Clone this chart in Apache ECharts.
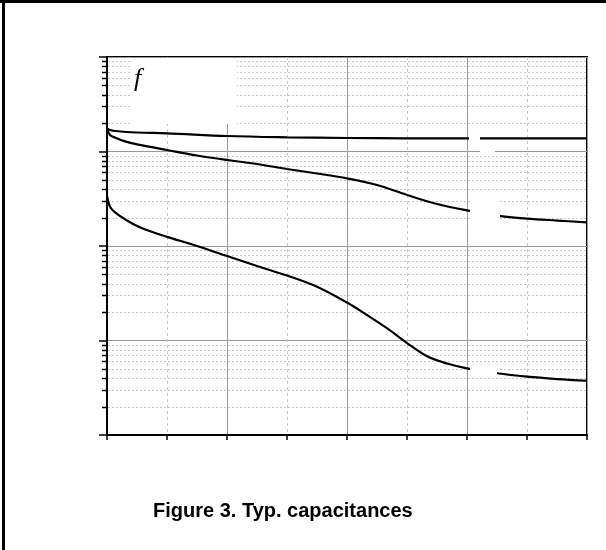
<!DOCTYPE html>
<html>
<head>
<meta charset="utf-8">
<script src="https://cdn.jsdelivr.net/npm/echarts@6/dist/echarts.min.js"></script>
<style>
html,body{margin:0;padding:0;background:#fff;}
#c{width:606px;height:550px;}
</style>
</head>
<body>
<div id="c"></div>
<script>
// Data (x: 0..40, y: capacitance, log scale)
var cissX = [0, 0.25, 0.7, 2.5, 5, 10, 15, 20, 25, 30, 35, 40];
var cissY = [1760, 1690, 1648, 1589, 1559, 1459, 1414, 1390, 1380, 1377, 1374, 1375];

var cossX = [0, 0.25, 0.7, 1.5, 2.5, 5, 7.5, 10, 12.5, 15, 17.5, 20, 22.5, 25, 27.5, 30, 32.5, 35, 37.5, 40];
var cossY = [1750, 1495, 1400, 1280, 1190, 1037, 907, 813, 738, 653, 585, 520, 442, 347, 278, 238, 210, 195, 186, 178];

var crssX = [0, 0.25, 0.7, 1.67, 2.5, 3.6, 5, 7.5, 10, 12.5, 15, 17.5, 20, 21.67, 23.33, 25, 26.67, 28.33, 30, 32.5, 35, 37.5, 40];
var crssY = [342, 261, 225, 186, 163, 143, 125, 100, 78.4, 61.4, 48.7, 37.1, 25.2, 18.6, 13.5, 9.4, 6.8, 5.71, 5.08, 4.5, 4.14, 3.91, 3.75];

var yDecades = [1, 10, 100, 1000];
var minorMult = [2, 3, 4, 5, 6, 7, 8, 9];
var captionText = 'Figure 3. Typ. capacitances';
var labelText = 'f';

function pairs(xs, ys) { return xs.map(function (x, i) { return [x, ys[i]]; }); }
var minorVals = [];
yDecades.forEach(function (d) { minorMult.forEach(function (m) { minorVals.push([m * d]); }); });

var chart = echarts.init(document.getElementById('c'), null, {renderer: 'canvas'});
var lineStyle = {color: '#000', width: 2.2};
function curve(xs, ys) {
  return {type: 'line', data: pairs(xs, ys), smooth: 0.35, showSymbol: false, lineStyle: lineStyle, z: 3};
}
chart.setOption({
  animation: false,
  backgroundColor: '#fff',
  grid: {left: 107, top: 57, right: 19, bottom: 115, show: true, borderColor: '#000', borderWidth: 2, backgroundColor: 'transparent'},
  xAxis: {
    type: 'value', min: 0, max: 40, interval: 10,
    axisLine: {show: true, lineStyle: {color: '#000', width: 2}},
    axisTick: {show: true, length: 5, lineStyle: {color: '#000', width: 1.5}},
    minorTick: {show: true, splitNumber: 2, length: 5, lineStyle: {color: '#000', width: 1.5}},
    axisLabel: {show: false},
    splitLine: {show: true, lineStyle: {color: '#999', width: 1}},
    minorSplitLine: {show: true, lineStyle: {color: '#c8c8c8', width: 1, type: [3, 3]}}
  },
  yAxis: {
    type: 'log', logBase: 10, min: 1, max: 10000, splitNumber: 4,
    axisLine: {show: true, lineStyle: {color: '#000', width: 2}},
    axisTick: {show: true, length: 8, lineStyle: {color: '#000', width: 1.5}},
    axisLabel: {show: false},
    splitLine: {show: true, lineStyle: {color: '#999', width: 1}}
  },
  series: [
    {
      type: 'custom', z: 1, silent: true, clip: false,
      data: minorVals,
      renderItem: function (params, api) {
        var v = api.value(0);
        var p0 = api.coord([0, v]);
        var p1 = api.coord([40, v]);
        var y = Math.round(p0[1]) + 0.5;
        return {
          type: 'group',
          children: [
            {type: 'line', shape: {x1: p0[0] + 1, y1: y, x2: p1[0] - 1, y2: y},
             style: {stroke: '#c8c8c8', lineWidth: 1, lineDash: [2, 2]}},
            {type: 'line', shape: {x1: p0[0] - 5, y1: y, x2: p0[0], y2: y},
             style: {stroke: '#000', lineWidth: 1.5}}
          ]
        };
      }
    },
    curve(cissX, cissY),
    curve(cossX, cossY),
    curve(crssX, crssY)
  ],
  graphic: [
    // outer frame (top and left)
    {type: 'line', shape: {x1: 0, y1: 1.5, x2: 606, y2: 1.5}, style: {stroke: '#000', lineWidth: 3}, z: 100},
    {type: 'line', shape: {x1: 3.5, y1: 0, x2: 3.5, y2: 550}, style: {stroke: '#000', lineWidth: 3}, z: 100},
    // label background masks
    {type: 'rect', shape: {x: 132, y: 58, width: 105, height: 66}, style: {fill: '#fff'}, z: 50},
    {type: 'rect', shape: {x: 469, y: 131, width: 11, height: 14}, style: {fill: '#fff'}, z: 50},
    {type: 'rect', shape: {x: 480, y: 148, width: 15, height: 8}, style: {fill: '#fff'}, z: 50},
    {type: 'rect', shape: {x: 470, y: 197, width: 30, height: 25}, style: {fill: '#fff'}, z: 50},
    {type: 'rect', shape: {x: 470, y: 362, width: 27, height: 15}, style: {fill: '#fff'}, z: 50},
    {type: 'text', left: 134, top: 66, z: 60,
     style: {text: labelText, fontFamily: 'Liberation Serif', fontStyle: 'italic', fontSize: 26, fill: '#000'}},
    {type: 'text', left: 153, top: 501, z: 60,
     style: {text: captionText, fontFamily: 'Liberation Sans', fontWeight: 'bold', fontSize: 20, fill: '#000'}}
  ]
});
</script>
</body>
</html>
